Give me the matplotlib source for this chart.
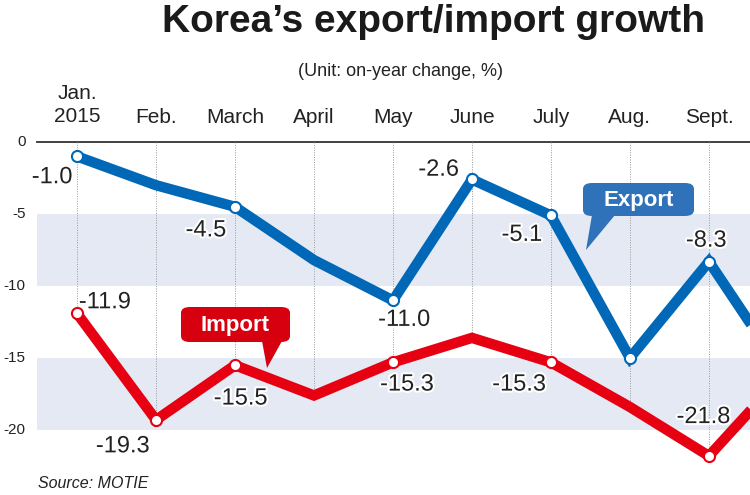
import matplotlib.pyplot as plt
import matplotlib.patheffects as pe
from matplotlib.patches import FancyBboxPatch, Polygon
from matplotlib import font_manager

# the graphic is cropped after Sept.; Oct. only shows as the lines running off the edge
months = ["Jan.\n2015", "Feb.", "March", "April", "May", "June", "July", "Aug.", "Sept.", "Oct."]
export = [-1.0, -3.0, -4.5, -8.2, -11.0, -2.6, -5.1, -15.0, -8.3, -16.5]
imports = [-11.9, -19.3, -15.5, -17.6, -15.3, -13.6, -15.3, -18.4, -21.8, -15.8]
yticks = [0, -5, -10, -15, -20]
bands = [(-5, -10), (-15, -20)]

# which points get a white dot, and label offsets in points (dx, dy)
export_dots = [0, 2, 4, 5, 6, 7, 8]
export_labels = {0: (-18, -15), 2: (-21, -17), 4: (8, -14), 5: (-24, 7), 6: (-21, -14), 8: (-2, 15)}
import_dots = [0, 1, 2, 4, 6, 8]
import_labels = {0: (20, 8), 1: (-24, -19), 2: (4, -24), 4: (10, -16), 6: (-23, -16), 8: (-4, 28)}

installed = {f.name for f in font_manager.fontManager.ttflist}
narrow = "Liberation Sans Narrow" if "Liberation Sans Narrow" in installed else "Liberation Sans"
plt.rcParams["font.family"] = [narrow, "DejaVu Sans"]

BLUE = "#0068b7"
RED = "#e60012"
BAND = "#e4e9f4"
W, H = 750, 495

fig = plt.figure(figsize=(7.5, 4.95), dpi=100)
ax = fig.add_axes([0, 0, 1, 1])
ax.set_xlim(-0.975, 8.52)
ax.set_ylim(-24.51, 9.86)
ax.axis("off")


def fx(px):
    return px / W


def fy(py):
    return 1 - py / H


x = list(range(len(months)))
left = -0.506
for top, bot in bands:
    ax.fill_between([left, 9.5], top, bot, color=BAND, lw=0, zorder=0)
ax.plot([left, 9.5], [0, 0], color="#333333", lw=1.3, zorder=1)

for i in x:
    ax.plot([i, i], [0, imports[i]], color="#9a9a9a", lw=0.7, ls=(0, (1, 1.5)), zorder=1)

for yv in yticks:
    ax.text(-0.65, yv, str(yv), ha="right", va="center", fontsize=11, color="#222222")

xmax = ax.get_xlim()[1]
for i, m in enumerate(months):
    if i > xmax:
        continue
    if "\n" in m:
        ax.text(i, 2.55, m, ha="center", va="center", fontsize=15, color="#222222", linespacing=1.25)
    else:
        ax.text(i, 1.7, m, ha="center", va="center", fontsize=15, color="#222222")

for ys, col, dots, labels in [(imports, RED, import_dots, import_labels),
                              (export, BLUE, export_dots, export_labels)]:
    ax.plot(x, ys, color=col, lw=7.5, solid_joinstyle="miter", solid_capstyle="butt", zorder=3)
    ax.plot([x[i] for i in dots], [ys[i] for i in dots], "o", ms=8, mfc="white",
            mec=col, mew=1.5, zorder=4)
    for i, (dx, dy) in labels.items():
        ax.annotate(f"{ys[i]:.1f}", (x[i], ys[i]), xytext=(dx, dy), textcoords="offset points",
                    ha="center", va="center", fontsize=17, color="#222222", zorder=5,
                    path_effects=[pe.withStroke(linewidth=3, foreground="white")])

# callout boxes
for (x0, y0, x1, y1), tail, text, col in [
        ((583, 183, 694, 216), [(592, 215), (615, 215), (586, 250)], "Export", "#2f72ba"),
        ((181, 307, 290, 342), [(262, 341), (282, 341), (267, 368)], "Import", "#d7000f")]:
    box = FancyBboxPatch((fx(x0), fy(y1)), fx(x1 - x0), (y1 - y0) / H,
                         boxstyle="round,pad=0,rounding_size=0.012",
                         transform=fig.transFigure, fc=col, ec="none", zorder=6)
    fig.patches.append(box)
    tri = Polygon([(fx(a), fy(b)) for a, b in tail], closed=True, transform=fig.transFigure,
                  fc=col, ec="none", zorder=6)
    fig.patches.append(tri)
    fig.text(fx((x0 + x1) / 2), fy((y0 + y1) / 2 + 1), text, ha="center", va="center",
             fontsize=16, fontweight="bold", color="white", family=["Liberation Sans", "DejaVu Sans"],
             zorder=7)

fig.text(fx(433), fy(22), "Korea’s export/import growth", ha="center", va="center",
         fontsize=28, fontweight="bold", color="#1a1a1a", family=["Liberation Sans", "DejaVu Sans"])
fig.text(fx(400), fy(72), "(Unit: on-year change, %)", ha="center", va="center",
         fontsize=13, color="#222222")
fig.text(fx(38), fy(484), "Source: MOTIE", ha="left", va="center", fontsize=11.5,
         style="italic", color="#222222")

fig.savefig("out.png", dpi=100)
